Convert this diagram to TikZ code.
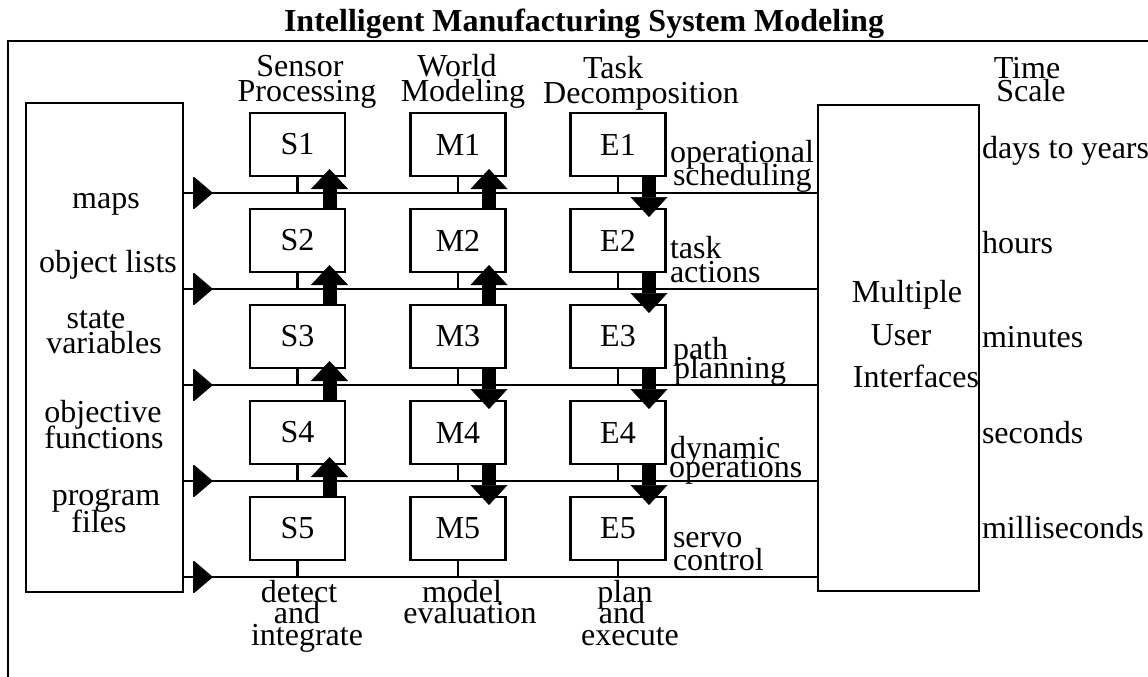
\documentclass[tikz,border=0pt]{standalone}
\usepackage{fontspec}
\setmainfont{Liberation Serif}
\usetikzlibrary{arrows.meta}
\begin{document}
\begin{tikzpicture}[x=1pt,y=-1pt,
  every node/.style={inner sep=0pt, outer sep=0pt},
  txt/.style={font=\fontsize{32}{32}\selectfont, anchor=base},
  txtw/.style={font=\fontsize{32}{32}\selectfont, anchor=base west},
  blk/.style={draw, line width=2.8pt, minimum width=95pt, minimum height=63pt, font=\fontsize{32}{32}\selectfont},
  panel/.style={draw, line width=2.8pt},
  wire/.style={line width=2.6pt},
  bigarrow/.style={line width=14pt, -{Triangle[width=37pt,length=20pt,line width=0.5pt]}},
  feed/.style={fill, rounded corners=2pt},
]
\useasboundingbox (0,0) rectangle (1148,677);
\fill[white] (0,0) rectangle (1148,677);

% outer frame (only top and left edges lie inside the picture)
\draw[wire, line width=2.8pt] (1148,41) -- (8,41) -- (8,677);

% title
\node[font=\bfseries\fontsize{32}{32}\selectfont, anchor=base] (title) at (584,32) {Intelligent Manufacturing System Modeling};

% column headers
\node[txt] (hS1) at (300,77) {Sensor};
\node[txt] (hS2) at (307,101) {Processing};
\node[txt] (hM1) at (457,77) {World};
\node[txt] (hM2) at (463,101) {Modeling};
\node[txt] (hE1) at (613,78) {Task};
\node[txt] (hE2) at (641,103) {Decomposition};
\node[txt] (hT1) at (1027,78) {Time};
\node[txt] (hT2) at (1031,101) {Scale};

% side panels
\node[panel, minimum width=157pt, minimum height=489pt] (src) at (104.5,347.5) {};
\node[panel, minimum width=161pt, minimum height=486pt] (ui) at (898.5,348) {};

% bus lines
\foreach \y in {193,289,385,481,577} {
  \draw[wire] (src.east |- 0,\y) -- (ui.west |- 0,\y);
  \fill[feed] (193,\y-17) -- (213,\y) -- (193,\y+17) -- cycle;
}

% module boxes
\foreach \i in {1,...,5} {
  \pgfmathsetmacro\cy{144.5+96*(\i-1)}
  \node[blk] (S\i) at (297.5,\cy) {S\i};
  \node[blk] (M\i) at (458,\cy) {M\i};
  \node[blk] (E\i) at (618,\cy) {E\i};
  \draw[wire] (S\i.south) -- ++(0,17);
  \draw[wire] (M\i.south) -- ++(0,17);
  \draw[wire] (E\i.south) -- ++(0,17);
}

% thick arrows
\foreach \i/\j in {1/2,2/3,3/4,4/5} {
  \draw[bigarrow] ([xshift=32pt]S\j.north) -- ([xshift=32pt,yshift=7pt]S\i.south);
  \draw[bigarrow] ([xshift=31pt]E\i.south) -- ([xshift=31pt,yshift=-8pt]E\j.north);
}
\foreach \i/\j in {1/2,2/3} {
  \draw[bigarrow] ([xshift=31pt]M\j.north) -- ([xshift=31pt,yshift=7pt]M\i.south);
}
\foreach \i/\j in {3/4,4/5} {
  \draw[bigarrow] ([xshift=31pt]M\i.south) -- ([xshift=31pt,yshift=-8pt]M\j.north);
}

% left panel labels
\node[txt] (l1) at (106,208) {maps};
\node[txt] (l2) at (108,272) {object lists};
\node[txt] (l3a) at (96,328) {state};
\node[txt] (l3b) at (104,353) {variables};
\node[txt] (l4a) at (103,422) {objective};
\node[txt] (l4b) at (104,448) {functions};
\node[txt] (l5a) at (106,505) {program};
\node[txt] (l5b) at (99,532) {files};

% level labels
\node[txtw] (r1a) at (670,162) {operational};
\node[txtw] (r1b) at (673,185) {scheduling};
\node[txtw] (r2a) at (670,258) {task};
\node[txtw] (r2b) at (670,282) {actions};
\node[txtw] (r3a) at (673,359) {path};
\node[txtw] (r3b) at (674,378) {planning};
\node[txtw] (r4a) at (670,458) {dynamic};
\node[txtw] (r4b) at (669,477) {operations};
\node[txtw] (r5a) at (673,547) {servo};
\node[txtw] (r5b) at (673,570) {control};

% user interface text
\node[txt] (u1) at (907,302) {Multiple};
\node[txt] (u2) at (901,345) {User};
\node[txt] (u3) at (916,387) {Interfaces};

% time scale
\node[txtw] (t1) at (982,158) {days to years};
\node[txtw] (t2) at (982,253) {hours};
\node[txtw] (t3) at (982,347) {minutes};
\node[txtw] (t4) at (982,443) {seconds};
\node[txtw] (t5) at (982,538) {milliseconds};

% bottom labels
\node[txt] (b1a) at (299,602) {detect};
\node[txt] (b1b) at (297,623) {and};
\node[txt] (b1c) at (307,645) {integrate};
\node[txt] (b2a) at (462,602) {model};
\node[txt] (b2b) at (470,623) {evaluation};
\node[txt] (b3a) at (625,602) {plan};
\node[txt] (b3b) at (622,623) {and};
\node[txt] (b3c) at (630,645) {execute};
\end{tikzpicture}
\end{document}
